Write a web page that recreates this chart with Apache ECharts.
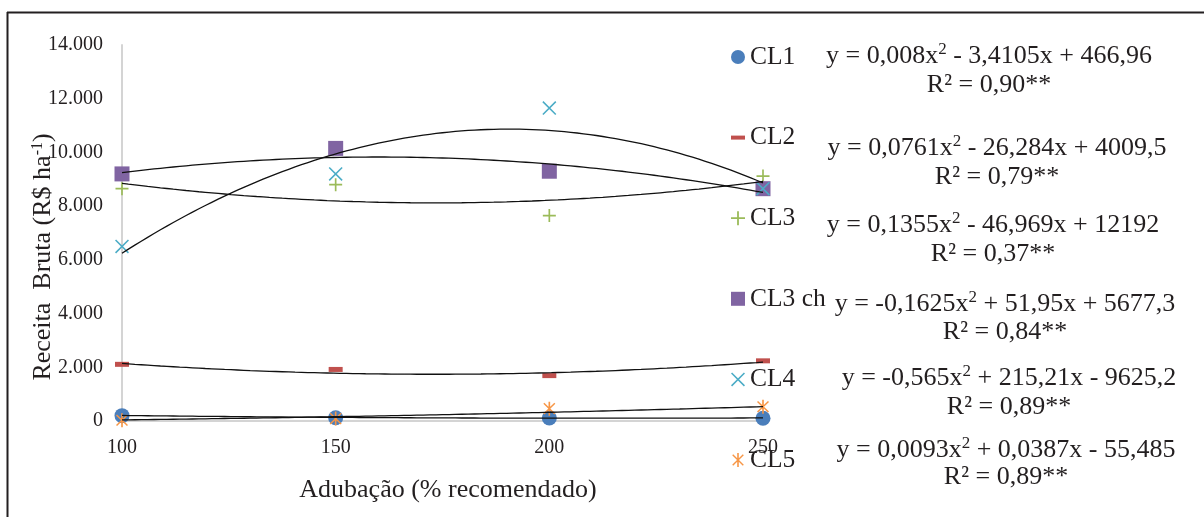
<!DOCTYPE html>
<html>
<head>
<meta charset="utf-8">
<script src="https://cdn.jsdelivr.net/npm/echarts@6/dist/echarts.min.js"></script>
<style>
html,body{margin:0;padding:0;background:#fff;}
#chart{width:1204px;height:517px;}
</style>
</head>
<body>
<div id="chart"></div>
<script>
// ---- data ----
const doses = [100, 150, 200, 250];
const xTickLabels = ['100', '150', '200', '250'];
const yTickLabels = ['0', '2.000', '4.000', '6.000', '8.000', '10.000', '12.000', '14.000'];
const seriesNames = ['CL1', 'CL2', 'CL3', 'CL3 ch', 'CL4', 'CL5'];
const cl1 = [200, 120, 110, 100];
const cl2 = [2110, 1920, 1690, 2240];
const cl3 = [8650, 8800, 7650, 9120];
const cl3ch = [9200, 10150, 9300, 8650];
const cl4 = [6500, 9200, 11650, 8650];
const cl5 = [30, 90, 460, 530];
// polynomial trendline coefficients as printed on the chart (a, b, c)
const cl1Trend = [0.008, -3.4105, 466.96];
const cl2Trend = [0.0761, -26.284, 4009.5];
const cl3Trend = [0.1355, -46.969, 12192];
const cl3chTrend = [-0.1625, 51.95, 5677.3];
const cl4Trend = [-0.565, 215.21, -9625.2];
const cl5Trend = [0.0093, 0.0387, -55.485];
const eqTexts = [
  'y = 0,008x{sup|2} - 3,4105x + 466,96',
  'y = 0,0761x{sup|2} - 26,284x + 4009,5',
  'y = 0,1355x{sup|2} - 46,969x + 12192',
  'y = -0,1625x{sup|2} + 51,95x + 5677,3',
  'y = -0,565x{sup|2} + 215,21x - 9625,2',
  'y = 0,0093x{sup|2} + 0,0387x - 55,485'
];
const r2Texts = ['R² = 0,90**', 'R² = 0,79**', 'R² = 0,37**', 'R² = 0,84**', 'R² = 0,89**', 'R² = 0,89**'];
const xAxisTitle = 'Adubação (% recomendado)';

// ---- styling ----
const FONT = 'Liberation Serif';
const TXT = '#231f20';
const colors = ['#4a7ebb', '#c0504d', '#9bbb59', '#8064a2', '#4bacc6', '#f79646'];
const PLUS = 'path://M-0.9,-7H0.9V-0.9H7V0.9H0.9V7H-0.9V0.9H-7V-0.9H-0.9Z';
const XMARK = 'path://M-7,-5.9L-5.9,-7L7,5.9L5.9,7Z M7,-5.9L-5.9,7L-7,5.9L5.9,-7Z';
const STAR = 'path://M-0.8,-7H0.8V7H-0.8Z M-5.8,-4.8L-4.8,-5.8L5.8,4.8L4.8,5.8Z M5.8,-4.8L-4.8,5.8L-5.8,4.8L4.8,-5.8Z';
const DASH = 'path://M0,0H14V4H0Z';
const symbols = ['circle', DASH, PLUS, 'rect', XMARK, STAR];
const symSizes = [15, [14, 5], 13, 15, 14, [12, 14]];
const values = [cl1, cl2, cl3, cl3ch, cl4, cl5];
const trends = [cl1Trend, cl2Trend, cl3Trend, cl3chTrend, cl4Trend, cl5Trend];

function trendData(coef) {
  const out = [];
  for (let x = doses[0]; x <= doses[doses.length - 1] + 1e-9; x += 1.5) {
    out.push([x, coef[0] * x * x + coef[1] * x + coef[2]]);
  }
  return out;
}

const series = [];
seriesNames.forEach((name, i) => {
  series.push({
    name: name,
    type: 'scatter',
    symbol: symbols[i],
    symbolSize: symSizes[i],
    itemStyle: { color: colors[i], opacity: 1 },
    data: doses.map((d, k) => [d, values[i][k]]),
    z: 2
  });
});
trends.forEach((coef, i) => {
  series.push({
    name: seriesNames[i] + ' trend',
    type: 'line',
    showSymbol: false,
    smooth: false,
    silent: true,
    lineStyle: { color: '#111', width: 1.3 },
    data: trendData(coef),
    z: 3
  });
});

const graphics = [
  { type: 'line', shape: { x1: 7, y1: 12.5, x2: 1204, y2: 12.5 }, style: { stroke: TXT, lineWidth: 2 } },
  { type: 'line', shape: { x1: 7.5, y1: 12, x2: 7.5, y2: 517 }, style: { stroke: TXT, lineWidth: 2 } },
  {
    type: 'text', x: 43, y: 257, rotation: Math.PI / 2,
    style: {
      text: 'Receita  Bruta (R$ ha{sup|-1})',
      fontFamily: FONT, fontSize: 26, fill: TXT, align: 'center', verticalAlign: 'middle',
      rich: { sup: { fontFamily: FONT, fontSize: 16, fill: TXT, verticalAlign: 'top', lineHeight: 26 } }
    }
  },
  {
    type: 'text', x: 448, y: 490,
    style: { text: xAxisTitle, fontFamily: FONT, fontSize: 26, fill: TXT, align: 'center', verticalAlign: 'middle' }
  }
];
const eqPos = [[989, 56, 85], [997, 148, 177], [993, 225, 254], [1005, 304, 332], [1009, 378, 407], [1006, 450, 477]];
eqTexts.forEach((t, i) => {
  graphics.push({
    type: 'text', x: eqPos[i][0], y: eqPos[i][1],
    style: {
      text: t, fontFamily: FONT, fontSize: 26, fill: TXT, align: 'center', verticalAlign: 'middle',
      rich: { sup: { fontFamily: FONT, fontSize: 17, fill: TXT, verticalAlign: 'top', lineHeight: 30 } }
    }
  });
  graphics.push({
    type: 'text', x: eqPos[i][0], y: eqPos[i][2],
    style: { text: r2Texts[i], fontFamily: FONT, fontSize: 26, fill: TXT, align: 'center', verticalAlign: 'middle' }
  });
});

const chart = echarts.init(document.getElementById('chart'), null, { renderer: 'canvas' });
chart.setOption({
  animation: false,
  backgroundColor: '#fff',
  grid: { left: 122, right: 441, top: 45, bottom: 96, containLabel: false },
  xAxis: {
    type: 'value', min: 100, max: 250, interval: 50,
    axisLine: { show: true, lineStyle: { color: '#d4d4d4', width: 2 } },
    axisTick: { show: false },
    splitLine: { show: false },
    axisLabel: {
      margin: 17, fontFamily: FONT, fontSize: 20, color: TXT,
      formatter: v => xTickLabels[doses.indexOf(v)]
    }
  },
  yAxis: {
    type: 'value', min: 0, max: 14000, interval: 2000,
    axisLine: { show: true, lineStyle: { color: '#d4d4d4', width: 2 } },
    axisTick: { show: false },
    splitLine: { show: false },
    axisLabel: {
      margin: 19, fontFamily: FONT, fontSize: 20, color: TXT,
      formatter: v => yTickLabels[Math.round(v / 2000)]
    }
  },
  legend: {
    orient: 'vertical', left: 726, top: 37, padding: 5,
    itemWidth: 14, itemHeight: 14, itemGap: 50.6,
    data: seriesNames.map((n, i) => ({ name: n, icon: symbols[i] })),
    textStyle: { fontFamily: FONT, fontSize: 25.5, color: TXT, lineHeight: 30, padding: [0, 0, 0, 0] },
    selectedMode: false
  },
  series: series,
  graphic: graphics
});
</script>
</body>
</html>
